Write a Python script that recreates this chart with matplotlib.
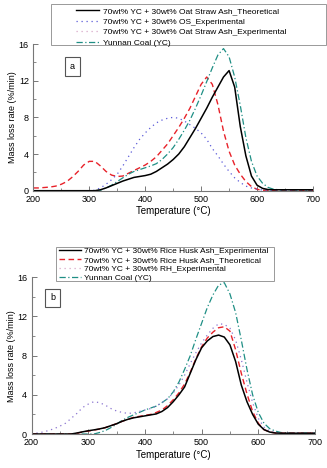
import numpy as np
import matplotlib
matplotlib.use('Agg')
import matplotlib.pyplot as plt
from matplotlib.lines import Line2D
from matplotlib.patches import Rectangle

plt.rcParams['font.family'] = ['Liberation Sans', 'DejaVu Sans']

# temperatura comun (°C)
temp = [200, 210, 220, 230, 240, 250, 260, 270, 280, 290,
        300, 310, 320, 330, 340, 350, 360, 370, 380, 390,
        400, 410, 420, 430, 440, 450, 460, 470, 480, 490,
        500, 510, 520, 530, 540, 550, 560, 570, 580, 590,
        600, 610, 620, 630, 640, 660, 680, 700]

# ---- panel a ----
a_theoretical = [0, 0, 0, 0, 0, 0, 0, 0, 0, 0,
                 0, 0, 0.1, 0.3, 0.55, 0.8, 1.05, 1.25, 1.45, 1.55,
                 1.65, 1.8, 2.1, 2.5, 2.9, 3.4, 4.0, 4.8, 5.8, 6.8,
                 7.9, 9.0, 10.2, 11.3, 12.4, 13.1, 11.3, 7.0, 3.8, 1.6,
                 0.6, 0.25, 0.12, 0.1, 0.1, 0.1, 0.1, 0.1]
a_os_exp = [0, 0, 0, 0, 0, 0, 0, 0, 0, 0,
            0, 0.05, 0.3, 0.7, 1.2, 1.8, 2.7, 3.7, 4.7, 5.6,
            6.3, 6.9, 7.4, 7.7, 7.9, 8.0, 7.9, 7.6, 7.2, 6.8,
            6.3, 5.6, 4.6, 3.8, 2.9, 2.1, 1.4, 0.9, 0.5, 0.3,
            0.15, 0.08, 0.05, 0.05, 0.05, 0.05, 0.05, 0.05]
a_ash_exp = [0.3, 0.3, 0.35, 0.4, 0.5, 0.7, 1.0, 1.5, 2.1, 2.8,
             3.2, 3.2, 2.7, 2.1, 1.7, 1.55, 1.6, 1.9, 2.2, 2.5,
             2.8, 3.2, 3.7, 4.4, 5.1, 6.0, 6.9, 7.9, 9.0, 10.3,
             11.6, 12.4, 11.6, 9.4, 6.5, 4.3, 2.8, 1.8, 1.0, 0.45,
             0.15, 0.05, 0.05, 0.05, 0.05, 0.05, 0.05, 0.05]
a_yc = [0, 0, 0, 0, 0, 0, 0, 0, 0, 0,
        0, 0, 0.05, 0.3, 0.6, 1.0, 1.4, 1.8, 2.1, 2.3,
        2.5, 2.7, 2.95, 3.4, 4.0, 4.7, 5.6, 6.6, 7.7, 9.0,
        10.4, 11.9, 13.4, 14.8, 15.5, 14.6, 12.4, 9.3, 5.8, 3.2,
        1.6, 0.8, 0.35, 0.15, 0.1, 0.1, 0.1, 0.1]

# ---- panel b ----
b_ash_exp = [0, 0, 0, 0, 0, 0, 0, 0, 0.1, 0.22,
             0.33, 0.42, 0.52, 0.65, 0.85, 1.05, 1.3, 1.5, 1.65, 1.75,
             1.85, 1.95, 2.05, 2.3, 2.7, 3.3, 4.0, 4.8, 6.2, 7.6,
             8.8, 9.5, 9.95, 10.1, 9.9, 9.1, 7.4, 5.0, 3.3, 2.0,
             1.0, 0.45, 0.2, 0.1, 0.08, 0.08, 0.08, 0.08]
b_ash_theo = [0, 0, 0, 0, 0, 0, 0, 0, 0.08, 0.2,
              0.3, 0.4, 0.5, 0.65, 0.85, 1.05, 1.3, 1.5, 1.7, 1.8,
              1.9, 2.0, 2.2, 2.45, 2.9, 3.5, 4.2, 5.1, 6.3, 7.7,
              8.9, 9.8, 10.4, 10.85, 10.95, 10.5, 8.6, 6.2, 4.1, 2.3,
              1.1, 0.45, 0.2, 0.1, 0.08, 0.08, 0.08, 0.08]
b_rh_exp = [0, 0.1, 0.2, 0.35, 0.55, 0.8, 1.1, 1.6, 2.1, 2.7,
            3.05, 3.3, 3.2, 2.95, 2.6, 2.35, 2.2, 2.1, 2.15, 2.3,
            2.45, 2.6, 2.85, 3.2, 3.6, 4.2, 5.0, 6.0, 7.2, 8.3,
            9.3, 10.1, 10.8, 11.25, 11.2, 10.8, 9.6, 7.6, 5.3, 3.2,
            1.6, 0.7, 0.3, 0.15, 0.1, 0.1, 0.1, 0.1]
b_yc = [0, 0, 0, 0, 0, 0, 0, 0, 0, 0,
        0, 0, 0.15, 0.35, 0.65, 1.0, 1.4, 1.7, 1.95, 2.2,
        2.45, 2.65, 2.85, 3.2, 3.6, 4.3, 5.3, 6.6, 8.0, 9.7,
        11.3, 12.9, 14.2, 15.2, 15.45, 14.3, 12.4, 9.6, 6.6, 4.0,
        2.2, 1.1, 0.55, 0.3, 0.15, 0.1, 0.1, 0.1]

legend_a = ['70wt% YC + 30wt% Oat Straw Ash_Theoretical',
            '70wt% YC + 30wt% OS_Experimental',
            '70wt% YC + 30wt% Oat Straw Ash_Experimental',
            'Yunnan Coal (YC)']
legend_b = ['70wt% YC + 30wt% Rice Husk Ash_Experimental',
            '70wt% YC + 30wt% Rice Husk Ash_Theoretical',
            '70wt% YC + 30wt% RH_Experimental',
            'Yunnan Coal (YC)']

c_black = 'black'
c_red = '#e8222a'
c_blue = '#5a5ad8'
c_pink = '#d8a8c8'
c_purple = '#8a74d0'
c_teal = '#1f8f85'

fig = plt.figure(figsize=(3.27, 4.68), dpi=100)
W, H = 327, 468


def px_box(x0, y0, x1, y1):
    return [x0 / W, 1 - y1 / H, (x1 - x0) / W, (y1 - y0) / H]


def style_axes(ax):
    ax.set_xlim(200, 700)
    ax.set_ylim(0, 16)
    ax.set_xticks([200, 300, 400, 500, 600, 700])
    ax.set_xticks([250, 350, 450, 550, 650], minor=True)
    ax.set_yticks([0, 4, 8, 12, 16])
    ax.set_yticks([2, 6, 10, 14], minor=True)
    for s in ['top', 'right']:
        ax.spines[s].set_visible(False)
    for s in ['left', 'bottom']:
        ax.spines[s].set_color('#777777')
        ax.spines[s].set_linewidth(0.8)
    ax.tick_params(which='major', direction='in', length=3.5, width=0.7,
                   color='#777777', labelsize=6.5, pad=3.2)
    ax.tick_params(which='minor', direction='in', length=2, width=0.6,
                   color='#777777')
    ax.set_xlabel('Temperature (°C)', fontsize=7, labelpad=1.5)
    ax.set_ylabel('Mass loss rate (%/min)', fontsize=6.5, labelpad=1)


# ---------------- a ----------------
ax1 = fig.add_axes(px_box(33.3, 44, 313, 190.7))
ax1.plot(temp, a_ash_exp, color=c_red, lw=1.0, ls=(0, (4, 2.5)))
ax1.plot(temp, a_os_exp, color=c_blue, lw=0.9, ls=(0, (1, 3)))
ax1.plot(temp, a_yc, color=c_teal, lw=0.9, ls=(0, (5, 2, 1, 2)))
ax1.plot(temp, a_theoretical, color=c_black, lw=1.1)
style_axes(ax1)

handles_a = [Line2D([], [], color=c_black, lw=1.0),
             Line2D([], [], color=c_blue, lw=0.9, ls=(0, (1, 3))),
             Line2D([], [], color=c_pink, lw=0.9, ls=(0, (1, 3))),
             Line2D([], [], color=c_teal, lw=0.9, ls=(0, (5, 2, 1, 2)))]
fig.legend(handles_a, legend_a, loc='upper left',
           bbox_to_anchor=(76 / W, 1 - 7 / H), frameon=False,
           fontsize=6, handlelength=2.8, handletextpad=0.4,
           labelspacing=0.35, borderpad=0, borderaxespad=0)
fig.patches.append(Rectangle((51 / W, 1 - 45 / H), (326 - 51) / W, 41 / H,
                             transform=fig.transFigure, fill=False,
                             ec='#999999', lw=0.7))
fig.text(72.5 / W, 1 - 66.5 / H, 'a', fontsize=6.5, ha='center', va='center',
         bbox=dict(boxstyle='square,pad=0.6', fc='white', ec='#555555', lw=0.8))

# ---------------- b ----------------
ax2 = fig.add_axes(px_box(31.5, 277.3, 315, 434))
ax2.plot(temp, b_yc, color=c_teal, lw=0.9, ls=(0, (5, 2, 1, 2)))
ax2.plot(temp, b_rh_exp, color=c_purple, lw=0.9, ls=(0, (1, 3)))
ax2.plot(temp, b_ash_theo, color=c_red, lw=1.0, ls=(0, (4, 2.5)))
ax2.plot(temp, b_ash_exp, color=c_black, lw=1.1)
style_axes(ax2)

handles_b = [Line2D([], [], color=c_black, lw=1.0),
             Line2D([], [], color=c_red, lw=1.0, ls=(0, (4, 2.5))),
             Line2D([], [], color=c_pink, lw=0.9, ls=(0, (1, 3))),
             Line2D([], [], color=c_teal, lw=0.9, ls=(0, (5, 2, 1, 2)))]
fig.legend(handles_b, legend_b, loc='upper left',
           bbox_to_anchor=(59 / W, 1 - 247.5 / H), frameon=False,
           fontsize=6, handlelength=2.6, handletextpad=0.4,
           labelspacing=0.12, borderpad=0, borderaxespad=0)
fig.patches.append(Rectangle((56 / W, 1 - 281 / H), (274 - 56) / W, 34 / H,
                             transform=fig.transFigure, fill=True, fc='white',
                             ec='#999999', lw=0.7, zorder=5))
fig.text(52.5 / W, 1 - 298 / H, 'b', fontsize=6.5, ha='center', va='center',
         bbox=dict(boxstyle='square,pad=0.55', fc='white', ec='#555555', lw=0.8))

fig.savefig('out.png', dpi=100)
